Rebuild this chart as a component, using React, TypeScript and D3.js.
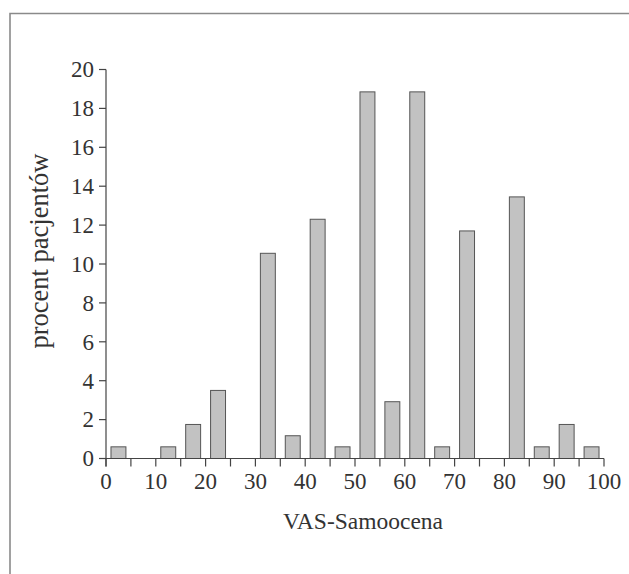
import React from "react";
import * as d3 from "d3";

const binCenters = [2.5, 12.5, 17.5, 22.5, 32.5, 37.5, 42.5, 47.5, 52.5, 57.5, 62.5, 67.5, 72.5, 82.5, 87.5, 92.5, 97.5];
const percents = [0.6, 0.6, 1.75, 3.5, 10.55, 1.17, 12.3, 0.6, 18.85, 2.92, 18.85, 0.6, 11.7, 13.45, 0.6, 1.75, 0.6];
const xTickLabels = [0, 10, 20, 30, 40, 50, 60, 70, 80, 90, 100];
const xMinorTicks = d3.range(0, 101, 5);
const yTickLabels = [0, 2, 4, 6, 8, 10, 12, 14, 16, 18, 20];
const xTitle = "VAS-Samoocena";
const yTitle = "procent pacjentów";

export default function App() {
  const W = 629, H = 574;
  const x = d3.scaleLinear().domain([0, 100]).range([106, 604]);
  const y = d3.scaleLinear().domain([0, 20]).range([458.5, 69.5]);
  const barW = x(3) - x(0);
  const font = "'Liberation Serif', 'Times New Roman', serif";
  const axisColor = "#444";
  const textColor = "#333";
  return (
    <svg width={W} height={H} style={{ position: "absolute", left: 0, top: 0, background: "#fff" }}>
      <path d={`M10,${H + 5} V13.5 H${W + 5}`} fill="none" stroke="#8a8a8a" strokeWidth={1.6} />
      {binCenters.map((c, i) => (
        <rect key={i} x={x(c) - barW / 2} y={y(percents[i])} width={barW} height={y(0) - y(percents[i])}
          fill="#c2c2c2" stroke="#555" strokeWidth={1} />
      ))}
      <line x1={x(0)} x2={x(0)} y1={y(20)} y2={y(0) + 8} stroke={axisColor} strokeWidth={1.2} />
      <line x1={x(0)} x2={x(100)} y1={y(0)} y2={y(0)} stroke={axisColor} strokeWidth={1.2} />
      {yTickLabels.map((v) => (
        <g key={v}>
          <line x1={x(0) - 7} x2={x(0)} y1={y(v)} y2={y(v)} stroke={axisColor} strokeWidth={1.2} />
          <text x={x(0) - 12} y={y(v)} dy="0.34em" textAnchor="end" fontFamily={font} fontSize={23} fill={textColor}>{v}</text>
        </g>
      ))}
      {xMinorTicks.map((v) => (
        <line key={v} x1={x(v)} x2={x(v)} y1={y(0)} y2={y(0) + 8} stroke={axisColor} strokeWidth={1.2} />
      ))}
      {xTickLabels.map((v) => (
        <text key={v} x={x(v)} y={489} textAnchor="middle" fontFamily={font} fontSize={23} fill={textColor}>{v}</text>
      ))}
      <text x={363} y={529} textAnchor="middle" fontFamily={font} fontSize={23.5} fill={textColor}>{xTitle}</text>
      <text transform={`translate(48,251) rotate(-90)`} textAnchor="middle" fontFamily={font} fontSize={26.5} fill={textColor}>{yTitle}</text>
    </svg>
  );
}
